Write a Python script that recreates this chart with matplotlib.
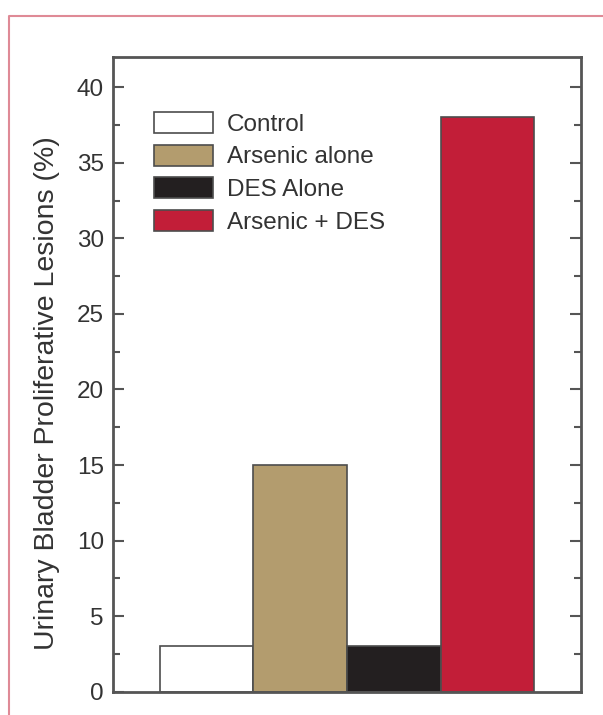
import matplotlib
matplotlib.use("Agg")
import matplotlib.pyplot as plt
from matplotlib.lines import Line2D
from matplotlib.ticker import MultipleLocator

categories = ["Control", "Arsenic alone", "DES Alone", "Arsenic + DES"]
values = [3, 15, 3, 38]
colors = ["#ffffff", "#b39c6e", "#231f20", "#c21e38"]
yticks = [0, 5, 10, 15, 20, 25, 30, 35, 40]
ylabel = "Urinary Bladder Proliferative Lesions (%)"

plt.rcParams['font.family'] = ['Liberation Sans', 'DejaVu Sans']

W, H = 603, 715
fig = plt.figure(figsize=(W / 100, H / 100), dpi=100)
ax = fig.add_axes([113 / W, 1 - 691.7 / H, (581 - 113) / W, (691.7 - 57) / H])

x = list(range(1, len(categories) + 1))
bars = ax.bar(x, values, width=1.0, color=colors, edgecolor="#4d4d4d", linewidth=1.2)
ax.set_xlim(0, 5)
ax.set_ylim(0, 42)
ax.set_yticks(yticks)
ax.yaxis.set_minor_locator(MultipleLocator(2.5))
ax.set_xticks([])
ax.tick_params(axis='y', which='both', direction='in', left=True, right=True,
               color="#555555", width=1.5, labelsize=17.5, labelcolor="#333333", pad=6.5)
ax.tick_params(axis='y', which='major', length=8)
ax.tick_params(axis='y', which='minor', length=5)
for s in ax.spines.values():
    s.set_color("#555555")
    s.set_linewidth(2)

fig.text(47 / W, 1 - 393 / H, ylabel, rotation=90, ha='center', va='center',
         fontsize=20.5, color="#333333")

leg = ax.legend(handles=list(bars), labels=categories, loc="upper left",
                bbox_to_anchor=(41 / 468, 1 - 55 / 634.7), frameon=False,
                fontsize=17.5, handlelength=2.43, handleheight=0.95,
                handletextpad=0.58, labelspacing=0.36, borderpad=0, borderaxespad=0)
for t in leg.get_texts():
    t.set_color("#333333")

pink = "#df8a96"
fig.add_artist(Line2D([8.5 / W, 8.5 / W, 1], [0, 1 - 16 / H, 1 - 16 / H],
                      transform=fig.transFigure, color=pink, linewidth=1.5))

fig.savefig("out.png", dpi=100, facecolor="white")
